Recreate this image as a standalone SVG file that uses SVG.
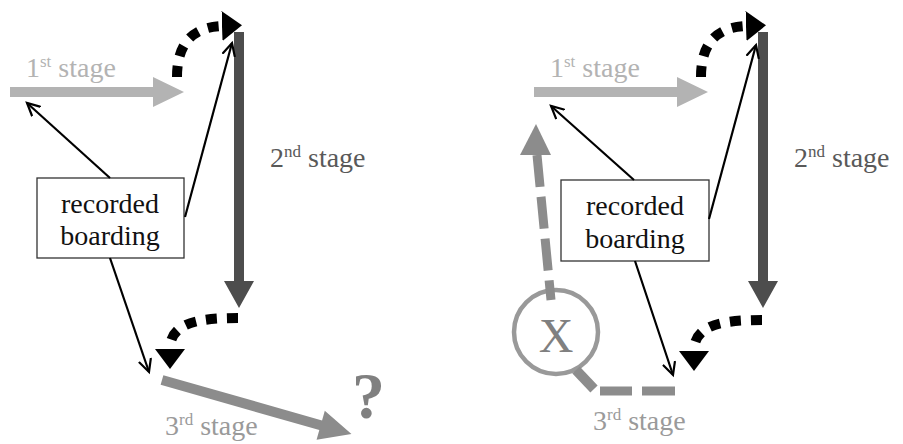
<svg xmlns="http://www.w3.org/2000/svg" width="903" height="444" viewBox="0 0 903 444">
  <defs>
    <marker id="openHead" markerUnits="userSpaceOnUse" markerWidth="16" markerHeight="16" refX="13" refY="7" orient="auto" viewBox="0 0 16 14">
      <path d="M1,1 L13,7 L1,13" fill="none" stroke="#000" stroke-width="2.2" stroke-linecap="round"/>
    </marker>
    <marker id="dotHead" markerUnits="userSpaceOnUse" markerWidth="22" markerHeight="32" refX="0" refY="15" orient="auto" viewBox="0 0 22 30">
      <path d="M0,0 L20,15 L0,30 Z" fill="#000"/>
    </marker>
    <!-- parts shared by both panels -->
    <g id="panelBase">
      <!-- 1st stage arrow -->
      <g id="stage1">
        <polygon class="s1" points="10,87 153,87 153,77 184,92 153,107 153,97 10,97"/>
        <text x="26" y="77" font-family="'Liberation Serif', 'DejaVu Serif', serif" font-size="28" fill="#b3b3b3">1<tspan font-size="17" dy="-10">st</tspan><tspan dy="10"> stage</tspan></text>
      </g>
      <!-- 2nd stage arrow -->
      <g id="stage2">
        <polygon class="s2" points="234,32 244,32 244,281 254,281 239,308 224,281 234,281"/>
        <text x="270" y="167" font-family="'Liberation Serif', 'DejaVu Serif', serif" font-size="28" fill="#595959">2<tspan font-size="17" dy="-10">nd</tspan><tspan dy="10"> stage</tspan></text>
      </g>
    </g>
  </defs>
  <style>
    .s1 { fill: #b3b3b3; }
    .s2 { fill: #4d4d4d; }
    .s3 { fill: #8c8c8c; }
    .box rect { fill: #fff; stroke: #333; stroke-width: 1.3; }
    .link { fill: none; stroke: #000; stroke-width: 2.2; marker-end: url(#openHead); }
    .dots { fill: none; stroke: #000; stroke-width: 10; stroke-dasharray: 11 10; marker-end: url(#dotHead); }
    .dash { fill: none; stroke: #8c8c8c; stroke-width: 9; }
  </style>

  <!-- ===== left panel ===== -->
  <g id="left">
    <use href="#panelBase"/>
    <g id="stage3">
      <g transform="translate(162,380) rotate(15.9)">
        <polygon class="s3" points="0,-5 165,-5 165,-15 197,0 165,15 165,5 0,5"/>
      </g>
      <text x="165" y="435" font-family="'Liberation Serif', 'DejaVu Serif', serif" font-size="28" fill="#9a9a9a">3<tspan font-size="17" dy="-10">rd</tspan><tspan dy="10"> stage</tspan></text>
    </g>
    <g id="question">
      <text x="352" y="418" font-family="'Liberation Serif', 'DejaVu Serif', serif" font-size="66" font-weight="bold" fill="#808080">?</text>
    </g>
    <g id="boxL" class="box" font-family="'Liberation Serif', 'DejaVu Serif', serif" font-size="28" fill="#111" text-anchor="middle">
      <rect x="37" y="178" width="147" height="80"/>
      <text x="110" y="213">recorded</text>
      <text x="110" y="245">boarding</text>
    </g>
    <g id="connectorsL">
      <path class="link" d="M110,178 L27,103"/>
      <path class="link" d="M185,217 L232,43"/>
      <path class="link" d="M110,258 L149,372"/>
      <path class="dots" d="M177,77 C177,42 194,27 222,26"/>
      <path class="dots" d="M238,318 C200,318 170,322 170,349"/>
    </g>
  </g>

  <!-- ===== right panel ===== -->
  <g id="right">
    <use href="#panelBase" x="524"/>
    <g id="stage3R">
      <text x="593" y="430" font-family="'Liberation Serif', 'DejaVu Serif', serif" font-size="28" fill="#9a9a9a">3<tspan font-size="17" dy="-10">rd</tspan><tspan dy="10"> stage</tspan></text>
    </g>
    <g id="boxR" class="box" font-family="'Liberation Serif', 'DejaVu Serif', serif" font-size="28" fill="#111" text-anchor="middle">
      <rect x="561" y="180" width="148" height="81"/>
      <text x="635" y="215">recorded</text>
      <text x="635" y="248">boarding</text>
    </g>
    <g id="magnifier">
      <circle cx="556" cy="332" r="42" fill="none" stroke="#999" stroke-width="4.5"/>
      <line x1="576" y1="370" x2="594" y2="389" stroke="#8c8c8c" stroke-width="10"/>
      <text x="556" y="352" font-family="'Liberation Serif', 'DejaVu Serif', serif" font-size="48" fill="#808080" text-anchor="middle">X</text>
    </g>
    <g id="connectorsR">
      <path class="dash" d="M537,155 L551,300" stroke-dasharray="32 10"/>
      <polygon class="s3" points="520,155 551,155 536,124"/>
      <path class="dash" d="M675,391 L600,391" stroke-dasharray="33 10"/>
      <path class="link" d="M634,180 L551,106"/>
      <path class="link" d="M709,219 L756,45"/>
      <path class="link" d="M635,261 L673,375"/>
      <path class="dots" d="M701,77 C701,42 718,27 746,26"/>
      <path class="dots" d="M762,320 C724,320 694,324 694,351"/>
    </g>
  </g>
</svg>
